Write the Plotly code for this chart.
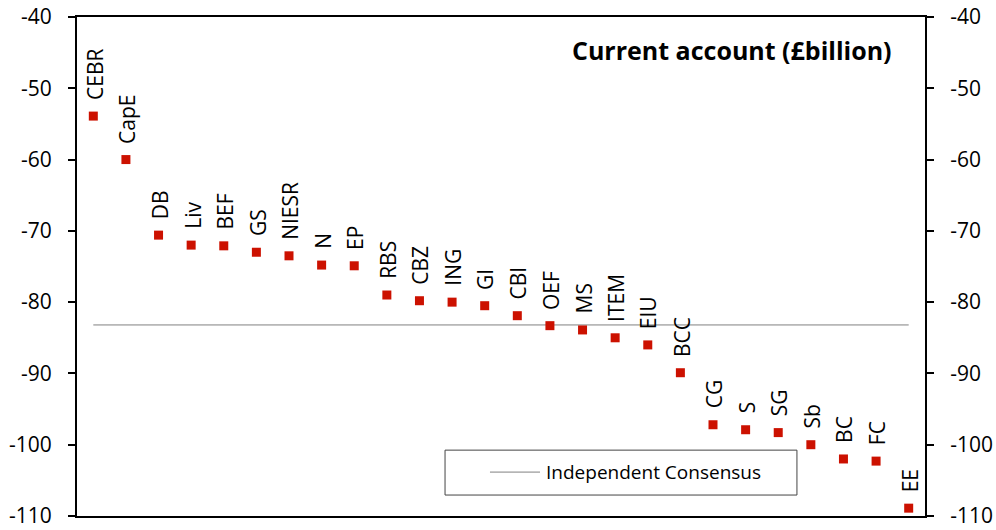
import plotly.graph_objects as go

forecasters = ["CEBR", "CapE", "DB", "Liv", "BEF", "GS", "NIESR", "N", "EP", "RBS",
               "CBZ", "ING", "GI", "CBI", "OEF", "MS", "ITEM", "EIU", "BCC", "CG",
               "S", "SG", "Sb", "BC", "FC", "EE"]
current_account = [-53.9, -60.0, -70.6, -72.0, -72.1, -73.0, -73.5, -74.8, -74.9, -79.0,
                   -79.8, -80.0, -80.5, -81.9, -83.3, -83.9, -85.0, -86.0, -89.9, -97.2,
                   -97.9, -98.3, -100.0, -102.0, -102.3, -108.9]
consensus_value = -83.2
consensus_name = "Independent Consensus"
chart_title = "Current account (£billion)"
y_ticks = [-110, -100, -90, -80, -70, -60, -50, -40]
y_tick_labels = ["-110", "-100", "-90", "-80", "-70", "-60", "-50", "-40"]

FONT = "Open Sans"
RED = "rgb(204,17,0)"

fig = go.Figure()

fig.add_trace(go.Scatter(
    x=forecasters, y=[consensus_value] * len(forecasters),
    mode="lines", line=dict(color="#808080", width=1),
    name=consensus_name, showlegend=False, hoverinfo="skip"))

fig.add_trace(go.Scatter(
    x=forecasters, y=current_account, mode="markers",
    marker=dict(symbol="square", size=9, color=RED),
    showlegend=False))

# invisible trace to activate right axis
fig.add_trace(go.Scatter(
    x=forecasters, y=current_account, mode="markers", yaxis="y2",
    marker=dict(opacity=0), showlegend=False, hoverinfo="skip"))

for name, val in zip(forecasters, current_account):
    fig.add_annotation(x=name, y=val, text=name, textangle=-90,
                       showarrow=False, xanchor="center", yanchor="bottom",
                       yshift=14, xshift=1,
                       font=dict(family=FONT, size=21, color="black"))

# title
fig.add_annotation(xref="paper", yref="paper", x=0.964, y=0.934, text="<b>" + chart_title + "</b>",
                   showarrow=False, xanchor="right", yanchor="middle",
                   font=dict(family=FONT, size=25, color="black"))

# legend box
fig.add_shape(type="rect", xref="paper", yref="paper", x0=0.434, x1=0.849, y0=0.042, y1=0.132,
              line=dict(color="#444", width=1), fillcolor="white", layer="below")
fig.add_shape(type="line", xref="paper", yref="paper", x0=0.487, x1=0.546, y0=0.088, y1=0.088,
              line=dict(color="#808080", width=1))
fig.add_annotation(xref="paper", yref="paper", x=0.551, y=0.088, text=consensus_name,
                   showarrow=False, xanchor="left", yanchor="middle",
                   font=dict(family=FONT, size=19, color="black"))

axis_y = dict(range=[-110, -40], tickvals=y_ticks, ticktext=y_tick_labels,
              ticks="outside", ticklen=7, automargin=False, ticklabelstandoff=12,
              tickwidth=1.5, tickcolor="black", showline=True, linecolor="black",
              linewidth=2, showgrid=False, zeroline=False,
              tickfont=dict(family=FONT, size=21, color="black"))

fig.update_layout(
    width=996, height=530,
    margin=dict(l=77, r=71, t=17, b=14),
    plot_bgcolor="white", paper_bgcolor="white",
    xaxis=dict(type="category", range=[-0.5, len(forecasters) - 0.5], showticklabels=False,
               ticks="", showline=True, linecolor="black", linewidth=2, mirror=True,
               showgrid=False, zeroline=False, automargin=False),
    yaxis=dict(**axis_y, side="left"),
    yaxis2=dict(**axis_y, side="right", overlaying="y"),
    showlegend=False,
)

fig.write_html("out.html", config={"displayModeBar": False},
               post_script="document.body.style.margin='0';")
